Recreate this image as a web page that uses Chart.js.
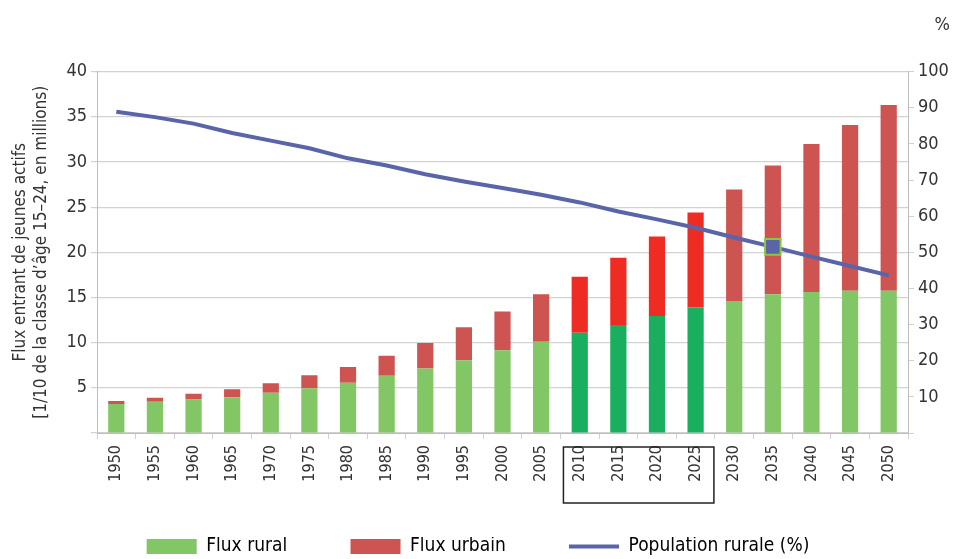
<!DOCTYPE html>
<html lang="fr">
<head>
<meta charset="UTF-8">
<title>Flux entrant de jeunes actifs</title>
<script src="https://cdn.jsdelivr.net/npm/chart.js"></script>
<style>
  html, body { margin: 0; padding: 0; background: #fff; }
  #wrap { width: 954px; height: 559px; }
</style>
</head>
<body>
<div id="wrap"><canvas id="fluxChart"></canvas></div>
<script>
// Années (abscisse)
const years = ['1950', '1955', '1960', '1965', '1970', '1975', '1980', '1985', '1990', '1995', '2000',
               '2005', '2010', '2015', '2020', '2025', '2030', '2035', '2040', '2045', '2050'];

// Flux entrant de jeunes actifs, en millions (axe de gauche)
const fluxRural  = [3.2, 3.45, 3.7, 3.95, 4.45, 4.95, 5.55, 6.35, 7.15, 8.05, 9.15,
                    10.1, 11.1, 11.95, 12.95, 13.9, 14.6, 15.35, 15.6, 15.75, 15.75];
const fluxUrbain = [0.35, 0.45, 0.65, 0.9, 1.05, 1.45, 1.75, 2.2, 2.8, 3.65, 4.3,
                    5.25, 6.2, 7.45, 8.8, 10.5, 12.35, 14.25, 16.4, 18.35, 20.55];

// Population rurale en % (axe de droite)
const popRurale = [88.9, 87.4, 85.6, 83.0, 80.9, 78.8, 76.0, 74.0, 71.6, 69.6, 67.8,
                   65.9, 63.8, 61.3, 59.1, 56.8, 54.1, 51.5, 48.8, 46.2, 43.6];

// années encadrées et point mis en évidence
const highlightYears = ['2010', '2015', '2020', '2025'];
const markedYear = '2035';

const FONT = "'Liberation Sans Narrow', 'DejaVu Sans Condensed', sans-serif";
const TEXT = '#333333';
const GRID = '#d2d2d2';

const GREEN = '#83c666', GREEN_DARK = '#1aae5f';
const RED = '#cd5451', RED_BRIGHT = '#ee2c24';
const BLUE = '#5a64a8';

const GAP = '\u2003\u2003\u2003\u2002\u2009'; // espace entre les entrées de légende
const SHIFT = 7; // descend la légende

const isHL = y => highlightYears.includes(y);

// cadre autour des étiquettes 2010-2025
const labelBox = {
    id: 'labelBox',
    afterDraw(chart) {
        const x = chart.scales.x;
        const first = years.indexOf(highlightYears[0]);
        const last = years.indexOf(highlightYears[highlightYears.length - 1]);
        const half = (x.getPixelForValue(1) - x.getPixelForValue(0)) / 2;
        const left = x.getPixelForValue(first) - half + 3;
        const right = x.getPixelForValue(last) + half - 1;
        const ctx = chart.ctx;
        ctx.save();
        ctx.strokeStyle = '#222';
        ctx.lineWidth = 1.5;
        ctx.strokeRect(left, x.top + 14, right - left, 56);
        ctx.restore();
    }
};

new Chart(document.getElementById('fluxChart'), {
    data: {
        labels: years,
        datasets: [
            {
                type: 'line',
                label: 'Population rurale (%)',
                data: popRurale,
                yAxisID: 'y1',
                borderColor: BLUE,
                borderWidth: 4,
                tension: 0,
                pointStyle: 'rect',
                pointRadius: years.map(y => y === markedYear ? 11 : 0),
                pointBackgroundColor: BLUE,
                pointBorderColor: '#8dc63f',
                pointBorderWidth: 2,
                order: 0
            },
            {
                type: 'bar',
                label: 'Flux rural',
                data: fluxRural,
                backgroundColor: years.map(y => isHL(y) ? GREEN_DARK : GREEN),
                categoryPercentage: 1,
                barPercentage: 0.42,
                stack: 'flux',
                order: 1
            },
            {
                type: 'bar',
                label: 'Flux urbain',
                data: fluxUrbain,
                backgroundColor: years.map(y => isHL(y) ? RED_BRIGHT : RED),
                categoryPercentage: 1,
                barPercentage: 0.42,
                stack: 'flux',
                order: 1
            }
        ]
    },
    options: {
        responsive: true,
        maintainAspectRatio: false,
        animation: false,
        layout: { padding: { left: 6, right: 4, top: 0, bottom: -SHIFT } },
        plugins: {
            title: {
                display: true,
                text: '%',
                align: 'end',
                color: TEXT,
                font: { family: FONT, size: 18, weight: 'normal' },
                padding: { top: 15, bottom: 35 }
            },
            tooltip: { enabled: false },
            legend: {
                position: 'bottom',
                labels: {
                    color: TEXT,
                    font: { family: FONT, size: 19 },
                    usePointStyle: true,
                    pointStyleWidth: 50,
                    boxHeight: 15,
                    padding: 0,
                    generateLabels: () => [
                        { text: 'Flux rural' + GAP, fillStyle: GREEN, strokeStyle: GREEN, lineWidth: 0, pointStyle: 'rect', datasetIndex: 1 },
                        { text: 'Flux urbain' + GAP, fillStyle: RED, strokeStyle: RED, lineWidth: 0, pointStyle: 'rect', datasetIndex: 2 },
                        { text: 'Population rurale (%)', fillStyle: BLUE, strokeStyle: BLUE, lineWidth: 4, pointStyle: 'line', datasetIndex: 0 }
                    ]
                }
            }
        },
        scales: {
            x: {
                stacked: true,
                offset: true,
                grid: { display: true, offset: true, drawOnChartArea: false, color: GRID, tickLength: 6 },
                border: { color: '#bdbdbd' },
                ticks: {
                    color: TEXT,
                    font: { family: FONT, size: 16 },
                    minRotation: 90,
                    maxRotation: 90,
                    padding: 6,
                    autoSkip: false
                },
                afterFit: s => { s.height = s.chart.height + SHIFT - 433 - s.chart.legend.height; }
            },
            y: {
                stacked: true,
                position: 'left',
                min: 0,
                max: 40,
                ticks: {
                    stepSize: 5,
                    color: TEXT,
                    font: { family: FONT, size: 18 },
                    padding: 4,
                    callback: v => v === 0 ? '' : v
                },
                grid: { color: GRID, lineWidth: 1.2, tickLength: 6 },
                border: { color: '#bdbdbd' },
                title: {
                    display: true,
                    text: ['Flux entrant de jeunes actifs', '[1/10 de la classe d\u2019\u00e2ge 15\u201324, en millions)'],
                    color: TEXT,
                    font: { family: FONT, size: 17, lineHeight: 1.25 },
                    padding: { top: 4, bottom: 0 }
                },
                afterFit: s => { s.width = 97 - 6; }
            },
            y1: {
                position: 'right',
                min: 0,
                max: 100,
                ticks: {
                    stepSize: 10,
                    color: TEXT,
                    font: { family: FONT, size: 18 },
                    padding: 4,
                    callback: v => v === 0 ? '' : v
                },
                grid: { drawOnChartArea: false, color: GRID, tickLength: 6 },
                border: { color: '#bdbdbd' },
                afterFit: s => { s.width = s.chart.width - 908 - 4; }
            }
        }
    },
    plugins: [labelBox]
});
</script>
</body>
</html>
